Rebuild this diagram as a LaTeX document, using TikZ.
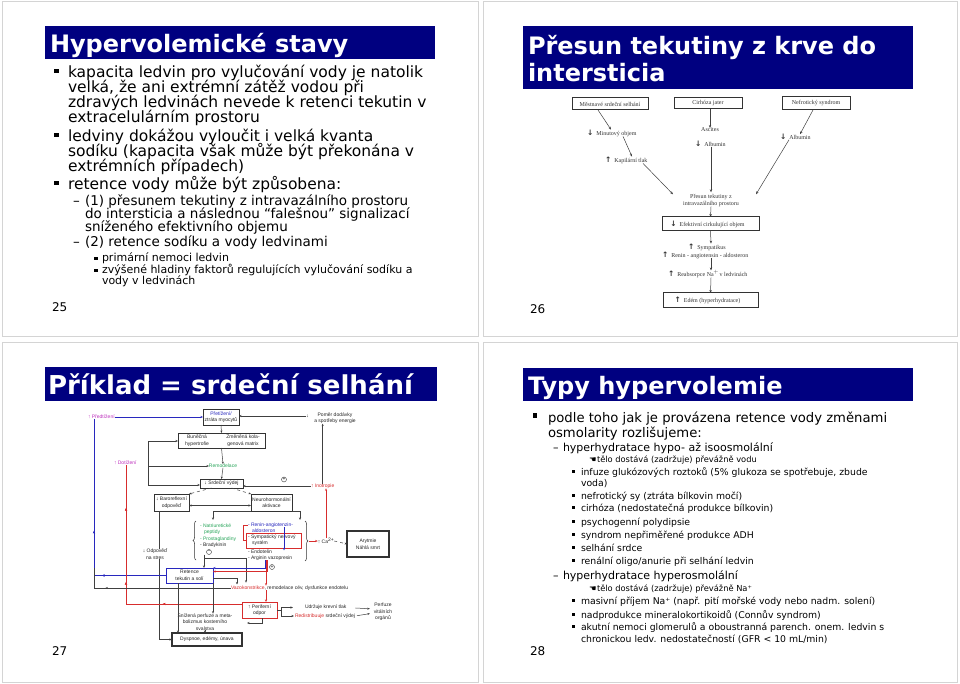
\documentclass[tikz,border=0pt]{standalone}
\usepackage{fontspec}
\setmainfont{DejaVu Sans}
\newfontfamily\tnr{Liberation Serif}
\newfontfamily\arl{Liberation Sans}
\newfontfamily\djb{DejaVu Sans}
\usetikzlibrary{arrows.meta,decorations.pathreplacing,decorations.markings}
\definecolor{navy}{RGB}{0,0,128}
\definecolor{mag}{RGB}{190,50,190}
\definecolor{dblue}{RGB}{40,40,190}
\definecolor{dred}{RGB}{215,45,45}
\definecolor{dgreen}{RGB}{40,165,90}
\definecolor{framec}{RGB}{212,212,212}
\newcommand\T[5]{\node[#2] (#1) at (#3,#4) {#5};}
\newcommand\dA{{\djb\bfseries\fontsize{7.5}{7}\selectfont ↓}}
\newcommand\uA{{\djb\bfseries\fontsize{7.5}{7}\selectfont ↑}}
\tikzset{
  base/.style={anchor=base west, inner sep=0pt, outer sep=0pt},
  ttl/.style={base, text=white, font=\fontsize{24}{24}\selectfont\bfseries},
  ttlb/.style={base, text=white, font=\fontsize{26}{26}\selectfont\bfseries},
  a1/.style={base, font=\fontsize{15.5}{15}\selectfont},
  a2/.style={base, font=\fontsize{13.5}{13}\selectfont},
  a3/.style={base, font=\fontsize{11}{11}\selectfont},
  c1/.style={base, font=\fontsize{13.2}{13}\selectfont},
  c2/.style={base, font=\fontsize{11}{11}\selectfont},
  c3/.style={base, font=\fontsize{9.3}{9.3}\selectfont},
  c4/.style={base, font=\fontsize{8.3}{8.3}\selectfont},
  pg/.style={base, font=\fontsize{12}{12}\selectfont},
  sr/.style={inner sep=0pt, outer sep=0pt, font=\tnr\fontsize{6}{7}\selectfont, text=black!80, align=center},
  box26/.style={sr, draw=black!80, line width=1pt},
  ar26/.style={-{Stealth[length=3pt,width=2.4pt]}, draw=black!75, line width=0.5pt},
  sa/.style={inner sep=0pt, outer sep=0pt, font=\arl\fontsize{5}{6.5}\selectfont, text=black!85, align=center},
  box27/.style={sa, draw=black!80, line width=0.6pt},
  ar27/.style={-{Stealth[length=2.5pt,width=2pt]}, draw=black!75, line width=0.5pt},
  mk/.style={postaction=decorate, decoration={markings, mark=at position #1 with {\arrow{Stealth[length=2.5pt,width=2pt]}}}},
  circ/.style={circle, draw=black!80, line width=0.4pt, inner sep=0pt, minimum size=5pt, font=\arl\fontsize{5}{5}\selectfont}
}
\begin{document}
\begin{tikzpicture}[x=1pt,y=-1pt]
\useasboundingbox (0,0) rectangle (960,684);
\fill[white] (0,0) rectangle (960,684);
% slide frames
\draw[framec, line width=1pt] (2,1.5) rectangle (478,336);
\draw[framec, line width=1pt] (483,1.5) rectangle (957,336);
\draw[framec, line width=1pt] (2,342) rectangle (478,682);
\draw[framec, line width=1pt] (483,342) rectangle (957,682);
% title bars
\fill[navy] (45,26) rectangle (435,59.5);
\fill[navy] (523,26) rectangle (913,89);
\fill[navy] (45,367) rectangle (437,401);
\fill[navy] (523,368) rectangle (913,401);
\T{t25}{ttl}{50}{53}{Hypervolemické stavy}
\T{t26a}{ttl}{528}{55}{Přesun tekutiny z krve do}
\T{t26b}{ttl}{528}{82}{intersticia}
\T{t27}{ttlb}{48}{394.5}{Příklad = srdeční selhání}
\T{t28}{ttl}{528}{394.5}{Typy hypervolemie}

% ---------------- slide 25 ----------------
\foreach \b in {78,142,190} {\fill (54,\b-9.3) rectangle (58.5,\b-4.8);}
\T{s1}{a1}{68}{78}{kapacita ledvin pro vylučování vody je natolik}
\T{s2}{a1}{68}{93}{velká, že ani extrémní zátěž vodou při}
\T{s3}{a1}{68}{108}{zdravých ledvinách nevede k retenci tekutin v}
\T{s4}{a1}{68}{123}{extracelulárním prostoru}
\T{s5}{a1}{68}{142}{ledviny dokážou vyloučit i velká kvanta}
\T{s6}{a1}{68}{157}{sodíku (kapacita však může být překonána v}
\T{s7}{a1}{68}{172}{extrémních případech)}
\T{s8}{a1}{68}{190}{retence vody může být způsobena:}
\T{d1}{a2}{73}{206}{–}
\T{s9}{a2}{85}{206}{(1) přesunem tekutiny z intravazálního prostoru}
\T{s10}{a2}{85}{219}{do intersticia a následnou “falešnou” signalizací}
\T{s11}{a2}{85}{232}{sníženého efektivního objemu}
\T{d2}{a2}{73}{247}{–}
\T{s12}{a2}{85}{247}{(2) retence sodíku a vody ledvinami}
\foreach \b in {262,274} {\fill (94.3,\b-5.2) rectangle (97.5,\b-2);}
\T{s13}{a3}{102}{262}{primární nemoci ledvin}
\T{s14}{a3}{102}{274}{zvýšené hladiny faktorů regulujících vylučování sodíku a}
\T{s15}{a3}{102}{285}{vody v ledvinách}
\T{p25}{pg}{52}{312}{25}

% ---------------- slide 26 ----------------
\T{B1}{box26,minimum width=76pt,minimum height=12pt}{610}{104}{Městnavé srdeční selhání}
\T{m1}{sr,anchor=west}{587}{133}{\dA\ \ Minutový objem}
\T{k1}{sr,anchor=west}{605}{160}{\uA\ \ Kapilární tlak}
\T{B2}{box26,minimum width=68pt,minimum height=11pt}{708}{103.5}{Cirhóza jater}
\T{asc}{sr}{710}{130}{Ascites}
\T{al1}{sr,anchor=west}{695}{144}{\dA\ \ Albumin}
\T{B3}{box26,minimum width=68pt,minimum height=13pt}{816}{103.5}{Nefrotický syndrom}
\T{al2}{sr,anchor=west}{780}{137}{\dA\ \ Albumin}
\T{pr}{sr}{711}{200.5}{Přesun tekutiny z\\intravazálního prostoru}
\T{E1}{box26,minimum width=97pt,minimum height=14pt}{710.5}{224}{\dA\ \ Efektivní cirkulující objem\ \ \ \ }
\T{sy}{sr,anchor=west}{688}{247}{\uA\ \ Sympatikus}
\T{rn}{sr,anchor=west}{662}{255}{\uA\ \ Renin - angiotensin - aldosteron}
\T{ra}{sr,anchor=west}{668}{274}{\uA\ \ Reabsorpce Na\kern-0.3pt$^{+}$\kern-1pt\ v ledvinách}
\T{E2}{box26,minimum width=95pt,minimum height=14pt}{710.5}{300}{\uA\ \ Edém (hyperhydratace)\ \ \ \ }
\draw[ar26] ([xshift=-12pt]B1.south) -- ([xshift=24pt]m1.north west);
\draw[ar26] ([xshift=36pt]m1.south west) -- ([xshift=27pt]k1.north west);
\draw[ar26] ([xshift=38pt]k1.south west) -- ([xshift=-38pt]pr.north);
\draw[ar26] ([xshift=2pt]B2.south) -- (asc.north);
\draw[ar26, shorten >=2pt] ([xshift=16pt]al1.south west) -- (pr.north);
\draw[ar26] ([xshift=-3pt]B3.south) -- ([xshift=20pt]al2.north west);
\draw[ar26] ([xshift=9pt]al2.south west) -- ([xshift=45pt]pr.north);
\draw[ar26] (pr.south) -- (E1.north);
\draw[ar26] (E1.south) -- ([xshift=23pt]sy.north west);
\draw[ar26] ([xshift=49pt]rn.south west) -- ([xshift=43pt]ra.north west);
\draw[ar26] ([xshift=43pt]ra.south west) -- (E2.north);
\T{p26}{pg}{530}{313}{26}

% ---------------- slide 27 ----------------
\T{pred}{sa,anchor=west,text=mag}{88}{417}{↑ Předtížení}
\T{P1}{box27,minimum width=36pt,minimum height=16pt}{221}{417}{\textcolor{dblue}{Přetížení/}\\ztráta myocytů}
\T{parr}{sa}{307.5}{416}{↓}
\T{pom}{sa}{335}{418}{Poměr dodávky\\a spotřeby energie}
\T{H1}{box27,minimum width=87pt,minimum height=15pt}{221.5}{440.5}{}
\T{h1a}{sa}{197}{440.5}{Buněčná\\hypertrofie}
\T{h1b}{sa}{243}{440.5}{Změněná kola-\\genová matrix}
\T{rem}{sa,text=dgreen}{223}{466}{Remodelace}
\T{S1}{box27,minimum width=43pt,minimum height=9pt}{221.5}{483.5}{↓ Srdeční výdej}
\T{dot}{sa,anchor=west,text=mag}{114}{463}{↑ Dotížení}
\T{ino}{sa,anchor=west,text=dred}{311}{486}{↑ Inotropie}
\T{pl1}{circ}{284}{479.5}{+}
\T{BR}{box27,minimum width=35pt,minimum height=17pt}{171.5}{502.5}{↓ Baroreflexní\\odpověď}
\T{NH}{box27,minimum width=41pt,minimum height=17pt}{271.5}{502.5}{Neurohormonální\\aktivace}
\T{lg1}{sa,anchor=west,text=dgreen}{200}{526}{- Natriuretické}
\T{lg2}{sa,anchor=west,text=dgreen}{204}{532}{peptidy}
\T{lg3}{sa,anchor=west,text=dgreen}{200}{539}{- Prostaglandiny}
\T{lg4}{sa,anchor=west}{200}{545}{- Bradykinin}
\T{mi1}{circ}{209}{552}{−}
\T{SY}{box27,draw=dred,line width=0.7pt,minimum width=55pt,minimum height=15pt}{273.5}{540.5}{}
\T{rg1}{sa,anchor=west,text=dblue}{248}{525}{- Renin-angiotenzin-}
\T{rg2}{sa,anchor=west,text=dblue}{252}{531}{aldosteron}
\T{rg3}{sa,anchor=west}{248}{537}{- Sympatický nervový}
\T{rg4}{sa,anchor=west}{252}{543}{systém}
\T{rg5}{sa,anchor=west}{248}{552}{- Endotelin}
\T{rg6}{sa,anchor=west}{248}{558}{- Arginin vazopresin}
\T{pl2}{circ}{272}{567}{+}
\T{ca}{sa}{326}{541}{↑ Ca\textsuperscript{2+}}
\T{AR}{box27,line width=1.2pt,minimum width=42pt,minimum height=26pt}{368}{544}{Arytmie\\Náhlá smrt}
\T{odp}{sa}{155}{554}{↓ Odpověď\\na stres}
\T{RT}{box27,draw=dblue,line width=0.9pt,minimum width=47pt,minimum height=15pt}{189.5}{575.5}{Retence\\tekutin a solí}
\T{vaz}{sa,anchor=west}{231}{588}{\textcolor{dred}{Vazokonstrikce}, remodelace cév, dysfunkce endotelu}
\T{PO}{box27,draw=dred,line width=0.9pt,minimum width=35pt,minimum height=16pt}{259.5}{610}{↑ Periferní\\odpor}
\T{udr}{sa,anchor=west}{305}{607.5}{Udržuje krevní tlak}
\T{red}{sa,anchor=west}{295}{616}{\textcolor{dred}{Redistribuuje} srdeční výdej}
\T{per}{sa}{383}{612}{Perfuze\\vitálních\\orgánů}
\T{sniz}{sa}{205}{622}{Snížená perfuze a meta-\\bolizmus kosterního\\svalstva}
\T{DY}{box27,line width=1.2pt,minimum width=70pt,minimum height=13pt}{207}{639.5}{Dyspnoe, edémy, únava}
\coordinate (L1) at (148,441);
\coordinate (L2) at (148,485);
\coordinate (bj) at (94,568);
\coordinate (rbt) at (309,541);
% braces
\draw[line width=0.5pt, black!80, decorate, decoration={brace, amplitude=3pt}] (196,560) -- (196,521);
\draw[line width=0.5pt, black!80, decorate, decoration={brace, amplitude=3pt}] (305,521) -- (305,561);
% connectors
\draw[ar27, draw=dblue] (pred.east) -- (pred.east -| P1.west);
\draw[ar27] (parr.west) -- (parr.west -| P1.east);
\draw[ar27] (P1.south) -- (H1.north);
\draw[ar27] (H1.south) -- (rem.north);
\draw[ar27] (rem.south) -- (S1.north);
\draw[line width=0.5pt, black!75] (L1) -- (L2);
\draw[ar27] (L1) -- (L1 -| H1.west);
\draw[ar27] (L1 |- rem.west) -- (rem.west);
\draw[ar27] (L2) -- (L2 -| S1.west);
\draw[ar27] (ino.west) -- (ino.west -| S1.east);
\draw[ar27] (ino.north) -- (ino.north |- pom.south);
\draw[ar27, draw=dred] (ca.north) -- (ca.north |- ino.south);
\draw[ar27, dashed] ([xshift=-10pt]S1.south) -- (BR.north east);
\draw[ar27, dashed] ([xshift=10pt]S1.south) -- (NH.north west);
\draw[{Stealth[length=2.5pt,width=2pt]}-{Stealth[length=2.5pt,width=2pt]}, line width=0.5pt, black!75] ([yshift=-3pt]BR.east) -- ([yshift=-3pt]NH.west);
\draw[ar27] (NH.south west) -- ++(-38,0) -- ++(0,9);
\draw[ar27] (NH.south east) -- ++(8,0) -- ++(0,9);
\draw[ar27, draw=dred] (rbt) -- (ca.west);
\draw[ar27, dashed] (ca.east) -- (AR.west);
\draw[line width=0.6pt, dred] (rg1.west) -- ++(-5,0) |- (SY.west);
\draw[ar27, draw=dblue] ([xshift=-9pt]rg1.south east) -- ++(0,23);
\draw[line width=0.5pt, black!75] ([xshift=-12.5pt]BR.south) -- ([xshift=-12.5pt]BR.south |- odp.north);
\draw[ar27] ([xshift=-12.5pt]BR.south |- odp.south) -- ([xshift=-12.5pt]BR.south |- DY.west) -- (DY.west);
\draw[line width=0.6pt, dblue, mk=0.28, mk=0.51] (RT.west) -| ([xshift=6pt]pred.south west);
\draw[line width=0.6pt, dred, mk=0.31, mk=0.54, mk=0.83] ([yshift=6pt]PO.west) -| ([xshift=12pt]dot.south west);
\draw[line width=0.5pt, black!75, mk=0.8] (vaz.west) -| (bj);
\draw[ar27] ([xshift=-11.5pt]RT.south) -- ([xshift=-11.5pt]RT.south |- DY.north);
\draw[ar27] ([yshift=-3pt]RT.east) -- ++(24,0) -- ++(0,6);
\draw[ar27] (RT.south east) -- (RT.south east |- sniz.north);
\draw[ar27] (sniz.south) -- (sniz.south |- DY.north);
\draw[ar27] ([xshift=-5pt]mi1.south) -- ([xshift=-5pt]mi1.south |- RT.north);
\draw[ar27] ([xshift=-5pt]mi1.south) ++(0,4) -- ++(42,0) -- ++(0,24);
\draw[ar27, draw=dblue] ([xshift=17pt]rg6.south west) |- ([yshift=7.5pt]RT.east);
\draw[ar27, draw=dred] ([xshift=19pt]rg6.south west) |- ([yshift=4pt]RT.east);
\draw[ar27, draw=dred] ([xshift=18pt]rg6.south west) -- ([xshift=35pt]vaz.north west);
\draw[ar27, draw=dred] ([xshift=35pt]vaz.south west) -- ([xshift=35pt]vaz.south west |- PO.north);
\draw[line width=0.5pt, black!75] (PO.east) -- ++(4,0);
\draw[ar27, shorten >=12pt] ([xshift=4pt]PO.east) |- (udr.west);
\draw[ar27, shorten >=1pt] ([xshift=4pt]PO.east) |- (red.west);
\draw[ar27, shorten <=9pt, shorten >=4pt] (udr.east) -- ([yshift=3pt]per.west);
\draw[ar27, shorten <=2pt, shorten >=4pt] (red.east) -- ([yshift=-1pt]per.west);
\draw[ar27] ([xshift=2.5pt]PO.south) -- ++(0,5) -- ++(-15,0);
\T{p27}{pg}{52}{655}{27}

% ---------------- slide 28 ----------------
\foreach \b in {422} {\fill (532.5,\b-9) rectangle (537,\b-4.5);}
\T{u1}{c1}{548}{422}{podle toho jak je provázena retence vody změnami}
\T{u2}{c1}{548}{437}{osmolarity rozlišujeme:}
\T{e1}{c2}{553}{451}{–}
\T{u3}{c2}{563}{451}{hyperhydratace hypo- až isoosmolální}
\T{h1}{c4}{589}{462}{☚}
\T{u4}{c4}{597}{462}{tělo dostává (zadržuje) převážně vodu}
\foreach \b in {475,499,511,525,538,551,564,604,618,630} {\fill (572,\b-5.5) rectangle (575,\b-2.5);}
\T{u5}{c3}{581}{475}{infuze glukózových roztoků (5\% glukoza se spotřebuje, zbude}
\T{u6}{c3}{581}{486}{voda)}
\T{u7}{c3}{581}{499}{nefrotický sy (ztráta bílkovin močí)}
\T{u8}{c3}{581}{511}{cirhóza (nedostatečná produkce bílkovin)}
\T{u9}{c3}{581}{525}{psychogenní polydipsie}
\T{u10}{c3}{581}{538}{syndrom nepřiměřené produkce ADH}
\T{u11}{c3}{581}{551}{selhání srdce}
\T{u12}{c3}{581}{564}{renální oligo/anurie při selhání ledvin}
\T{e2}{c2}{553}{579}{–}
\T{u13}{c2}{563}{579}{hyperhydratace hyperosmolální}
\T{h2}{c4}{589}{591}{☚}
\T{u14}{c4}{597}{591}{tělo dostává (zadržuje) převážně Na⁺}
\T{u15}{c3}{581}{604}{masivní příjem Na⁺ (např. pití mořské vody nebo nadm. solení)}
\T{u16}{c3}{581}{618}{nadprodukce mineralokortikoidů (Connův syndrom)}
\T{u17}{c3}{581}{630}{akutní nemoci glomerulů a oboustranná parench. onem. ledvin s}
\T{u18}{c3}{581}{642}{chronickou ledv. nedostatečností (GFR < 10 mL/min)}
\T{p28}{pg}{530}{655}{28}
\end{tikzpicture}
\end{document}
